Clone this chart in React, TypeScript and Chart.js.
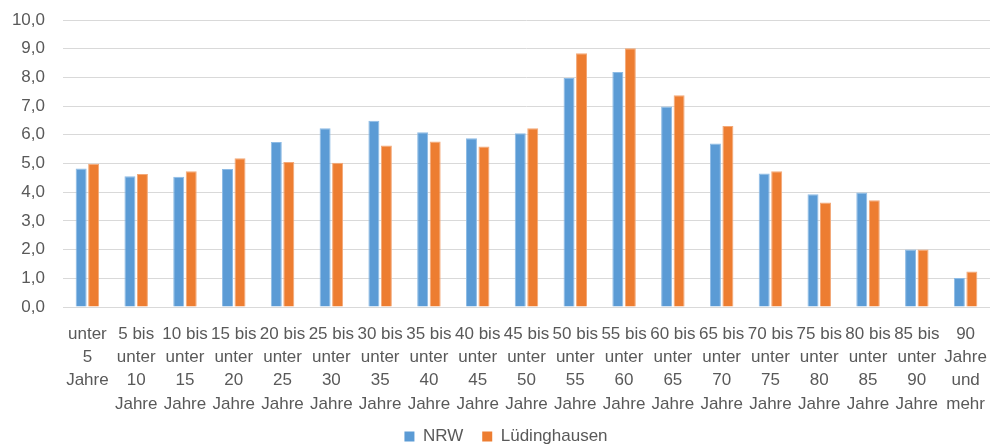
import React, { useEffect, useRef } from "react";
import { Chart, registerables } from "chart.js";

Chart.register(...registerables);

const categories: string[][] = [
  ["unter", "5", "Jahre"],
  ["5 bis", "unter", "10", "Jahre"],
  ["10 bis", "unter", "15", "Jahre"],
  ["15 bis", "unter", "20", "Jahre"],
  ["20 bis", "unter", "25", "Jahre"],
  ["25 bis", "unter", "30", "Jahre"],
  ["30 bis", "unter", "35", "Jahre"],
  ["35 bis", "unter", "40", "Jahre"],
  ["40 bis", "unter", "45", "Jahre"],
  ["45 bis", "unter", "50", "Jahre"],
  ["50 bis", "unter", "55", "Jahre"],
  ["55 bis", "unter", "60", "Jahre"],
  ["60 bis", "unter", "65", "Jahre"],
  ["65 bis", "unter", "70", "Jahre"],
  ["70 bis", "unter", "75", "Jahre"],
  ["75 bis", "unter", "80", "Jahre"],
  ["80 bis", "unter", "85", "Jahre"],
  ["85 bis", "unter", "90", "Jahre"],
  ["90", "Jahre", "und", "mehr"],
];

const nrw: number[] = [4.83, 4.56, 4.54, 4.81, 5.75, 6.23, 6.49, 6.09, 5.88, 6.05, 7.98, 8.19, 6.99, 5.7, 4.65, 3.93, 3.99, 2.0, 1.01];
const luedinghausen: number[] = [4.99, 4.63, 4.73, 5.18, 5.05, 5.03, 5.63, 5.77, 5.59, 6.23, 8.84, 9.02, 7.38, 6.31, 4.73, 3.64, 3.72, 2.0, 1.24];

const seriesNames: string[] = ["NRW", "Lüdinghausen"];

const layoutTweak = {
  id: "layoutTweak",
  afterLayout(chart: any) {
    const lg = chart.legend;
    if (lg) {
      lg.left += 11;
      lg.right += 11;
    }
    const x = chart.scales.x;
    if (x) x.bottom = chart.height;
  },
};

export default function App() {
  const ref = useRef<HTMLCanvasElement | null>(null);

  useEffect(() => {
    if (!ref.current) return;
    const font = { family: "'Liberation Sans', Arial, sans-serif", size: 17 };
    const chart = new Chart(ref.current, {
      type: "bar",
      data: {
        labels: categories,
        datasets: [
          {
            label: seriesNames[0],
            data: nrw,
            backgroundColor: "#5b9bd5",
            borderColor: "#8dbbe5",
            borderWidth: { top: 1, left: 1, right: 1, bottom: 0 },
            barPercentage: 0.88,
            categoryPercentage: 0.512,
          },
          {
            label: seriesNames[1],
            data: luedinghausen,
            backgroundColor: "#ed7d31",
            borderColor: "#f3a877",
            borderWidth: { top: 1, left: 1, right: 1, bottom: 0 },
            barPercentage: 0.88,
            categoryPercentage: 0.512,
          },
        ],
      },
      plugins: [layoutTweak],
      options: {
        animation: false,
        responsive: false,
        maintainAspectRatio: false,
        layout: { padding: { top: 20, right: 0, left: 0, bottom: -10 } },
        plugins: {
          tooltip: { enabled: false },
          legend: {
            position: "bottom",
            labels: {
              boxWidth: 10,
              boxHeight: 10,
              padding: 19,
              color: "#595959",
              font,
              generateLabels: (c: any) =>
                c.data.datasets.map((d: any, i: number) => ({
                  text: d.label,
                  fillStyle: d.backgroundColor,
                  strokeStyle: d.backgroundColor,
                  lineWidth: 0,
                  fontColor: "#595959",
                  hidden: false,
                  datasetIndex: i,
                })),
            },
          },
        },
        scales: {
          x: {
            grid: { display: false, drawTicks: false },
            border: { display: false },
            ticks: {
              color: "#595959",
              font: { ...font, lineHeight: 1.36 },
              maxRotation: 0,
              minRotation: 0,
              autoSkip: false,
              padding: 16,
            },
            afterFit: (s: any) => {
              s.height = 102;
              s.paddingLeft = 0;
              s.paddingRight = 0;
            },
          },
          y: {
            min: 0,
            max: 10,
            grid: { color: "#d9d9d9", drawTicks: false },
            border: { display: false },
            ticks: {
              stepSize: 1,
              color: "#595959",
              font,
              padding: 18,
              callback: (v: any) => Number(v).toFixed(1).replace(".", ","),
            },
            afterFit: (s: any) => {
              s.width = 63;
              s.paddingTop = 0;
              s.paddingBottom = 0;
            },
          },
        },
      },
    });
    return () => chart.destroy();
  }, []);

  return (
    <div style={{ position: "fixed", left: 0, top: 0, width: 990, height: 445, background: "#fff" }}>
      <canvas ref={ref} width={990} height={445} style={{ width: 990, height: 445 }} />
    </div>
  );
}
